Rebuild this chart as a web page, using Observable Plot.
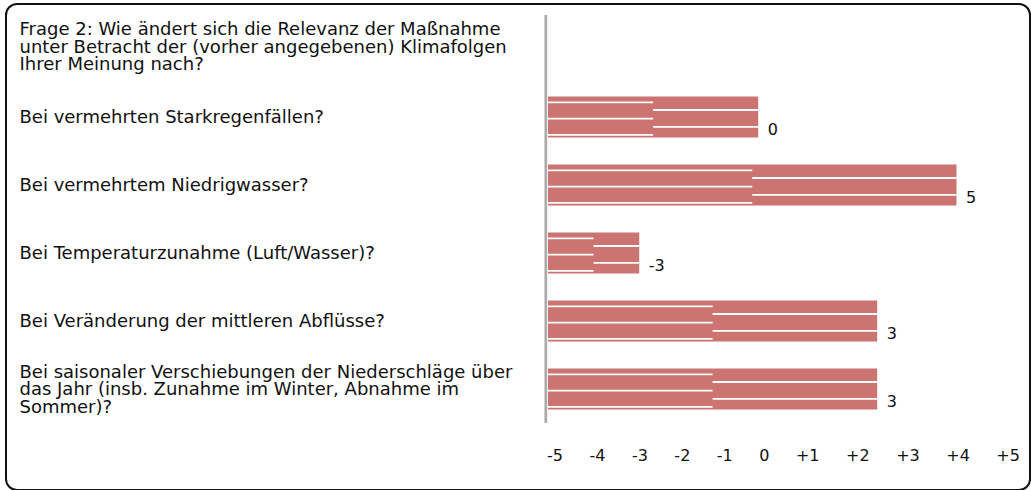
<!DOCTYPE html>
<html>
<head>
<meta charset="utf-8">
<script src="https://cdn.jsdelivr.net/npm/d3@7"></script>
<script src="https://cdn.jsdelivr.net/npm/@observablehq/plot@0.6"></script>
<style>
  html, body { margin: 0; padding: 0; background: #fff; }
  #wrap { position: relative; width: 1031px; height: 490px; overflow: hidden; background: #fff;
          font-family: "DejaVu Sans", sans-serif; color: #111; }
  #box { position: absolute; left: 5px; top: 3px; width: 1026px; height: 488px; box-sizing: border-box;
         border: 2px solid #111; border-radius: 12px; }
  #chart { position: absolute; left: 0; top: 0; }
  #ticks { position: absolute; left: 547px; top: 446px; width: 473px; display: flex;
           justify-content: space-between; font-size: 16px; line-height: 19px; }
</style>
</head>
<body>
<div id="wrap">
  <div id="box"></div>
  <div id="chart"></div>
  <div id="ticks"></div>
</div>
<script>
// ---- data ----
const header = "Frage 2: Wie ändert sich die Relevanz der Maßnahme\nunter Betracht der (vorher angegebenen) Klimafolgen\nIhrer Meinung nach?";
const questions = [
  "Bei vermehrten Starkregenfällen?",
  "Bei vermehrtem Niedrigwasser?",
  "Bei Temperaturzunahme (Luft/Wasser)?",
  "Bei Veränderung der mittleren Abflüsse?",
  "Bei saisonaler Verschiebungen der Niederschläge über\ndas Jahr (insb. Zunahme im Winter, Abnahme im\nSommer)?"
];
const values = [0, 5, -3, 3, 3];
const valueLabels = ["0", "5", "-3", "3", "3"];
const splits = [-2.65, -0.15, -4.15, -1.15, -1.15];
const baseline = -5.3;
const tickLabels = ["-5", "-4", "-3", "-2", "-1", "0", "+1", "+2", "+3", "+4", "+5"];

const rows = questions.map((q, i) => ({q, value: values[i], label: valueLabels[i], split: splits[i], base: baseline}));

const barColor = "#cc7471";
const leftLines = [-15.2, 1.2, 17.3];
const rightLines = [-7.5, 9.4];

const marks = [
  Plot.ruleX([baseline], {stroke: "#aaa", strokeWidth: 2.7, dx: -2.7}),
  Plot.barX(rows, {y: "q", x1: "base", x2: "value", fill: barColor, insetTop: 13.5, insetBottom: 13.5}),
  ...leftLines.map(o => Plot.ruleY(rows, {y: "q", x1: "base", x2: "split", stroke: "white", strokeWidth: 1.8, dy: o})),
  ...rightLines.map(o => Plot.ruleY(rows, {y: "q", x1: "split", x2: "value", stroke: "white", strokeWidth: 1.8, dy: o})),
  Plot.text(rows, {y: "q", x: "value", text: "label", dx: 9, dy: 12.5, textAnchor: "start", fill: "#111", fontSize: 16}),
  Plot.text(rows, {y: "q", text: "q", frameAnchor: "left", dx: -529, textAnchor: "start", lineHeight: 0.98, fill: "#111", fontSize: 18}),
  Plot.text([header], {y: d => d, text: d => d, frameAnchor: "left", dx: -529, dy: -2.5, textAnchor: "start", lineHeight: 0.98, fill: "#111", fontSize: 18})
];

const chart = Plot.plot({
  width: 1031,
  height: 440,
  marginLeft: 548,
  marginRight: 74.5,
  marginTop: 15,
  marginBottom: 17,
  x: {domain: [baseline, 5], axis: null},
  y: {domain: [header, ...questions], padding: 0, axis: null},
  style: {fontFamily: "DejaVu Sans", fontSize: "15px", color: "#111", background: "transparent", overflow: "visible"},
  marks
});
document.getElementById("chart").appendChild(chart);

const ticks = document.getElementById("ticks");
tickLabels.forEach(t => {
  const s = document.createElement("span");
  s.textContent = t;
  ticks.appendChild(s);
});
</script>
</body>
</html>
